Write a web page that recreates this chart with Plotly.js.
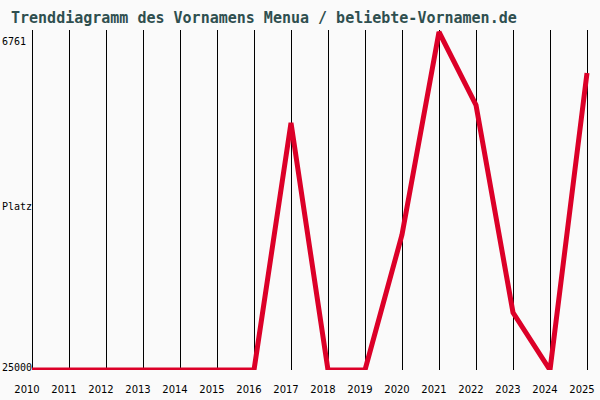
<!DOCTYPE html>
<html>
<head>
<meta charset="utf-8">
<script src="https://cdn.plot.ly/plotly-3.0.1.min.js"></script>
<style>
  html, body { margin: 0; padding: 0; background: #fafafa; }
  #chart { width: 600px; height: 400px; }
</style>
</head>
<body>
<div id="chart"></div>
<script>
// Trend des Vornamens Menua (Platz pro Jahr, kleiner = beliebter)
const years = [2010, 2011, 2012, 2013, 2014, 2015, 2016, 2017,
               2018, 2019, 2020, 2021, 2022, 2023, 2024, 2025];
const ranks = [25000, 25000, 25000, 25000, 25000, 25000, 25000, 11670,
               25000, 25000, 17700, 6761, 10700, 21900, 25000, 8970];

const yLabels = ['6761', 'Platz', '25000'];
const yLabelVals = [7300, 16200, 24840];

const titleText = 'Trenddiagramm des Vornamens Menua / beliebte-Vornamen.de';

const trace = {
  x: years,
  y: ranks,
  type: 'scatter',
  mode: 'lines',
  line: { color: '#dc0028', width: 5 },
  hoverinfo: 'skip'
};

const layout = {
  width: 600,
  height: 400,
  paper_bgcolor: '#fafafa',
  plot_bgcolor: '#fafafa',
  margin: { l: 28, r: 0, t: 30, b: 30 },
  showlegend: false,
  title: {
    text: titleText,
    font: { family: 'DejaVu Sans Mono', size: 15, color: '#2f4f4f', weight: 'bold' },
    xref: 'container', x: 11 / 600, xanchor: 'left',
    yref: 'container', y: 1 - 18 / 400, yanchor: 'middle'
  },
  xaxis: {
    range: [2010 - 4 / 37, 2010 + 568 / 37],
    tickvals: years,
    ticktext: years.map(String),
    showgrid: true,
    gridcolor: '#000000',
    gridwidth: 1,
    zeroline: false,
    showline: false,
    ticks: '',
    ticklabelshift: -5,
    ticklabelstandoff: 12,
    tickfont: { family: 'DejaVu Sans', size: 10, color: '#000000' },
    fixedrange: true
  },
  yaxis: {
    range: [25000, 6761 - 2 * 53.96],
    showgrid: false,
    zeroline: false,
    showline: false,
    showticklabels: false,
    ticks: '',
    fixedrange: true
  },
  annotations: yLabels.map((t, i) => ({
    text: t,
    xref: 'paper', x: -28 / 572, xanchor: 'left',
    yref: 'y', y: yLabelVals[i], yanchor: 'middle',
    showarrow: false,
    font: { family: 'DejaVu Sans Mono', size: 10, color: '#000000' }
  }))
};

Plotly.newPlot('chart', [trace], layout, { displayModeBar: false, staticPlot: true });
</script>
</body>
</html>
